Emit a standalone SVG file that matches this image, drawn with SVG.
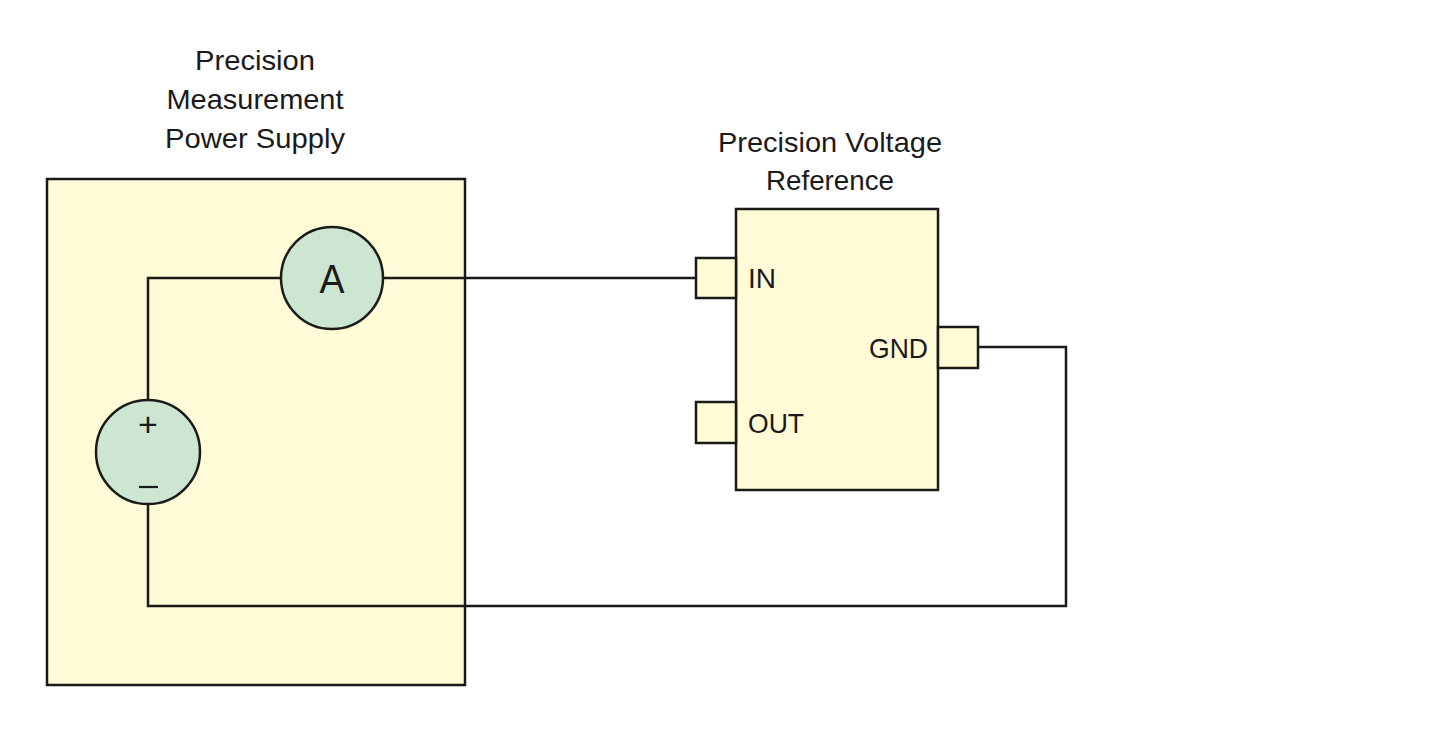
<svg xmlns="http://www.w3.org/2000/svg" width="1440" height="741" viewBox="0 0 1440 741">
<style>
.box{fill:#fffbd6;stroke:#1a1a1a;stroke-width:2.5}
.mtr{fill:#cce6d2;stroke:#1a1a1a;stroke-width:2.5}
.w{fill:none;stroke:#1a1a1a;stroke-width:2.5}
text{font-family:"Liberation Sans",Arial,sans-serif;font-size:28px;fill:#1a1a1a}
</style>
<rect width="1440" height="741" fill="#fff"/>
<g id="psu">
<rect class="box" x="47" y="179" width="418" height="506"/>
<text x="255" y="70" text-anchor="middle" textLength="120" lengthAdjust="spacingAndGlyphs">Precision</text>
<text x="255" y="109" text-anchor="middle" textLength="177" lengthAdjust="spacingAndGlyphs">Measurement</text>
<text x="255" y="148" text-anchor="middle" textLength="180" lengthAdjust="spacingAndGlyphs">Power Supply</text>
</g>
<g id="connectors">
<polyline class="w" points="148,400 148,278 281,278"/>
<polyline class="w" points="383,278 696,278"/>
<polyline class="w" points="978,347 1066,347 1066,606 148,606 148,504"/>
</g>
<g id="ammeter">
<circle class="mtr" cx="332" cy="278" r="51"/>
<text x="332" y="293" text-anchor="middle" style="font-size:40px" textLength="25" lengthAdjust="spacingAndGlyphs">A</text>
</g>
<g id="source">
<circle class="mtr" cx="148" cy="452" r="52"/>
<text x="148" y="436" text-anchor="middle" style="font-size:34px">+</text>
<line x1="139" y1="487" x2="158" y2="487" stroke="#1a1a1a" stroke-width="2.2"/>
</g>
<g id="vref">
<rect class="box" x="736" y="209" width="202" height="281"/>
<rect class="box" x="696" y="258" width="40" height="40"/>
<rect class="box" x="938" y="327" width="40" height="41"/>
<rect class="box" x="696" y="402" width="40" height="41"/>
<text x="748" y="288" textLength="28" lengthAdjust="spacingAndGlyphs">IN</text>
<text x="928" y="358" text-anchor="end" textLength="59" lengthAdjust="spacingAndGlyphs">GND</text>
<text x="748" y="433" textLength="56" lengthAdjust="spacingAndGlyphs">OUT</text>
<text x="830" y="152" text-anchor="middle" textLength="224" lengthAdjust="spacingAndGlyphs">Precision Voltage</text>
<text x="830" y="190" text-anchor="middle" textLength="128" lengthAdjust="spacingAndGlyphs">Reference</text>
</g>
</svg>
